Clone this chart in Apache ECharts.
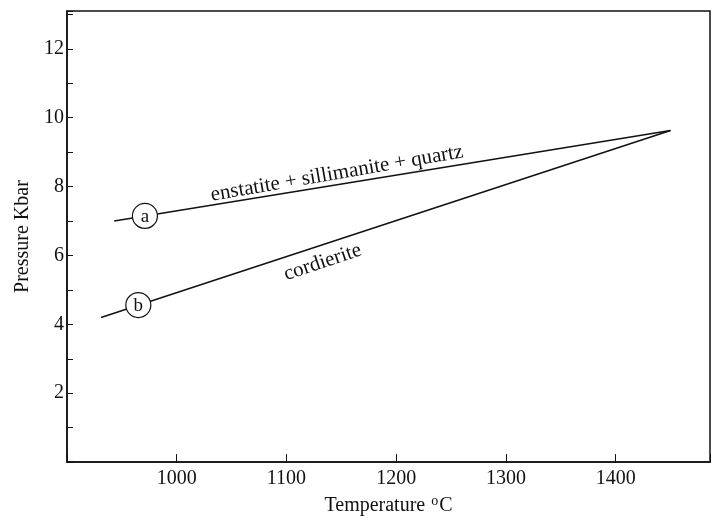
<!DOCTYPE html>
<html>
<head>
<meta charset="utf-8">
<script src="https://cdn.jsdelivr.net/npm/echarts@6/dist/echarts.min.js"></script>
<style>
  html, body { margin: 0; padding: 0; background: #fff; overflow: hidden; }
  #chart { width: 713px; height: 521px; }
</style>
</head>
<body>
<div id="chart"></div>
<script>
// reaction lines (temperature C, pressure kbar)
const lineA = [[943, 7.0], [1450, 9.63]];
const lineB = [[931, 4.2], [1450, 9.63]];

// circled letters sitting on the lines
const circlePoints = [[971, 7.15], [965, 4.56]];
const circleLabels = ['a', 'b'];

// text labels along the lines: [x, y, rotation]
const notePoints = [[1146, 8.38, 9.8], [1133, 5.8, 18.5]];
const noteTexts = ['enstatite + sillimanite + quartz', 'cordierite'];

const xTickLabels = [1000, 1100, 1200, 1300, 1400];
const yTickLabels = [2, 4, 6, 8, 10, 12];

const serif = '"Liberation Serif", "DejaVu Serif", serif';
const ink = '#111';

const chart = echarts.init(document.getElementById('chart'));

chart.setOption({
    animation: false,
    backgroundColor: '#fff',
    grid: {
        left: 67,
        right: 1,
        top: 11,
        bottom: 51,
        show: true,
        borderColor: ink,
        borderWidth: 1.5,
        containLabel: false
    },
    xAxis: {
        type: 'value',
        min: 900,
        max: 1486,
        interval: 100,
        name: 'Temperature {sup|o}C',
        nameLocation: 'center',
        nameGap: 30,
        nameTextStyle: {
            color: ink,
            fontFamily: serif,
            fontSize: 20,
            rich: {
                sup: { fontSize: 14, fontFamily: serif, color: ink, padding: [0, 1, 10, 1] }
            }
        },
        splitLine: { show: false },
        axisLine: { lineStyle: { color: ink, width: 1.5 } },
        axisTick: { inside: true, length: 8, lineStyle: { color: ink, width: 1 } },
        axisLabel: {
            color: ink,
            fontFamily: serif,
            fontSize: 20,
            margin: 7,
            formatter: v => (xTickLabels.indexOf(v) >= 0 ? String(v) : '')
        }
    },
    yAxis: {
        type: 'value',
        min: 0,
        max: 13.1,
        interval: 1,
        name: 'Pressure Kbar',
        nameLocation: 'center',
        nameGap: 29,
        nameTextStyle: { color: ink, fontFamily: serif, fontSize: 20 },
        splitLine: { show: false },
        axisLine: { lineStyle: { color: ink, width: 1.5 } },
        axisTick: { inside: true, length: 6, lineStyle: { color: ink, width: 1 } },
        axisLabel: {
            color: ink,
            fontFamily: serif,
            fontSize: 20,
            margin: 3,
            formatter: v => (yTickLabels.indexOf(v) >= 0 ? String(v) : '')
        }
    },
    series: [
        {
            type: 'line',
            data: lineA,
            symbol: 'none',
            lineStyle: { color: ink, width: 1.5 },
            z: 2
        },
        {
            type: 'line',
            data: lineB,
            symbol: 'none',
            lineStyle: { color: ink, width: 1.5 },
            z: 2
        },
        {
            type: 'scatter',
            data: circlePoints.map((p, i) => ({ value: p, name: circleLabels[i] })),
            symbol: 'circle',
            symbolSize: 25,
            itemStyle: { color: '#fff', borderColor: ink, borderWidth: 1.2, opacity: 1 },
            label: {
                show: true,
                position: 'inside',
                formatter: '{b}',
                color: ink,
                fontFamily: serif,
                fontSize: 19,
                textBorderWidth: 0,
                offset: [0, 1]
            },
            z: 5
        },
        {
            type: 'scatter',
            data: notePoints.map((p, i) => ({
                value: [p[0], p[1]],
                name: noteTexts[i],
                label: { rotate: p[2] }
            })),
            symbolSize: 0,
            itemStyle: { opacity: 1 },
            label: {
                show: true,
                position: 'inside',
                formatter: '{b}',
                color: ink,
                fontFamily: serif,
                fontSize: 21,
                textBorderWidth: 0
            },
            z: 5
        }
    ]
});
</script>
</body>
</html>
